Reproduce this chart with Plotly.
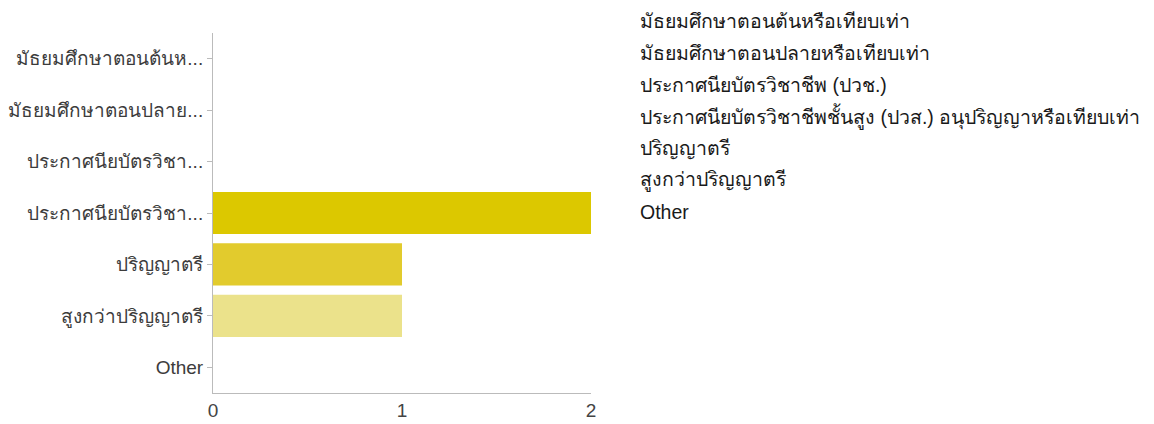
import plotly.graph_objects as go

# ── Data ─────────────────────────────────────────────────────────────────────
categories = [
    "มัธยมศึกษาตอนต้นหรือเทียบเท่า",
    "มัธยมศึกษาตอนปลายหรือเทียบเท่า",
    "ประกาศนียบัตรวิชาชีพ (ปวช.)",
    "ประกาศนียบัตรวิชาชีพชั้นสูง (ปวส.) อนุปริญญาหรือเทียบเท่า",
    "ปริญญาตรี",
    "สูงกว่าปริญญาตรี",
    "Other",
]
tick_labels = [
    "มัธยมศึกษาตอนต้นห...",
    "มัธยมศึกษาตอนปลาย...",
    "ประกาศนียบัตรวิชา...",
    "ประกาศนียบัตรวิชา...",
    "ปริญญาตรี",
    "สูงกว่าปริญญาตรี",
    "Other",
]
counts = [0, 0, 0, 2, 1, 1, 0]
x_ticks = [0, 1, 2]

# ── Style ────────────────────────────────────────────────────────────────────
bar_colors = ["#C9B400", "#D4BE00", "#D8C400", "#DCC800", "#E2CB2D", "#EBE28B", "#F2EDB8"]
FONT = "Liberation Sans, Arial, Noto Sans, sans-serif"
# page body has an 8px margin, so the figure is 8px smaller than the window
W, H = 1146, 416
L, R, T, B = 205, 563, 25, 31
plot_w = W - L - R
plot_h = H - T - B


def paper_y(py):
    return 1 - (py - T) / plot_h


fig = go.Figure(go.Bar(
    x=counts, y=categories, orientation="h",
    marker=dict(color=bar_colors, line=dict(width=0)),
    hovertemplate="%{y}: %{x}<extra></extra>",
))

# list of answer options on the right
for i, cat in enumerate(categories):
    fig.add_annotation(
        text=cat, xref="paper", yref="paper",
        x=(630 - L) / plot_w, y=paper_y(13 + i * 31.8),
        xanchor="left", yanchor="middle", showarrow=False,
        font=dict(family=FONT, size=19.5, color="#1A1A1A"),
    )

fig.update_layout(
    width=W, height=H,
    margin=dict(l=L, r=R, t=T, b=B, autoexpand=False),
    paper_bgcolor="white", plot_bgcolor="white",
    showlegend=False, bargap=0.18,
    font=dict(family=FONT, size=18, color="#444444"),
)
fig.update_xaxes(
    range=[0, 2], tickvals=x_ticks, ticktext=[str(v) for v in x_ticks],
    showgrid=False, zeroline=False, showline=True, linecolor="#BBBBBB",
    linewidth=1, ticks="", tickfont=dict(size=19, color="#444444"),
    automargin=False,
)
fig.update_yaxes(
    categoryorder="array", categoryarray=categories, autorange="reversed",
    tickvals=categories, ticktext=tick_labels,
    showgrid=False, zeroline=False, showline=True, linecolor="#BBBBBB",
    linewidth=1, ticks="outside", ticklen=5, tickcolor="#BBBBBB",
    tickfont=dict(size=19, color="#3C3C3C"), automargin=False,
)

fig.write_html("out.html")
